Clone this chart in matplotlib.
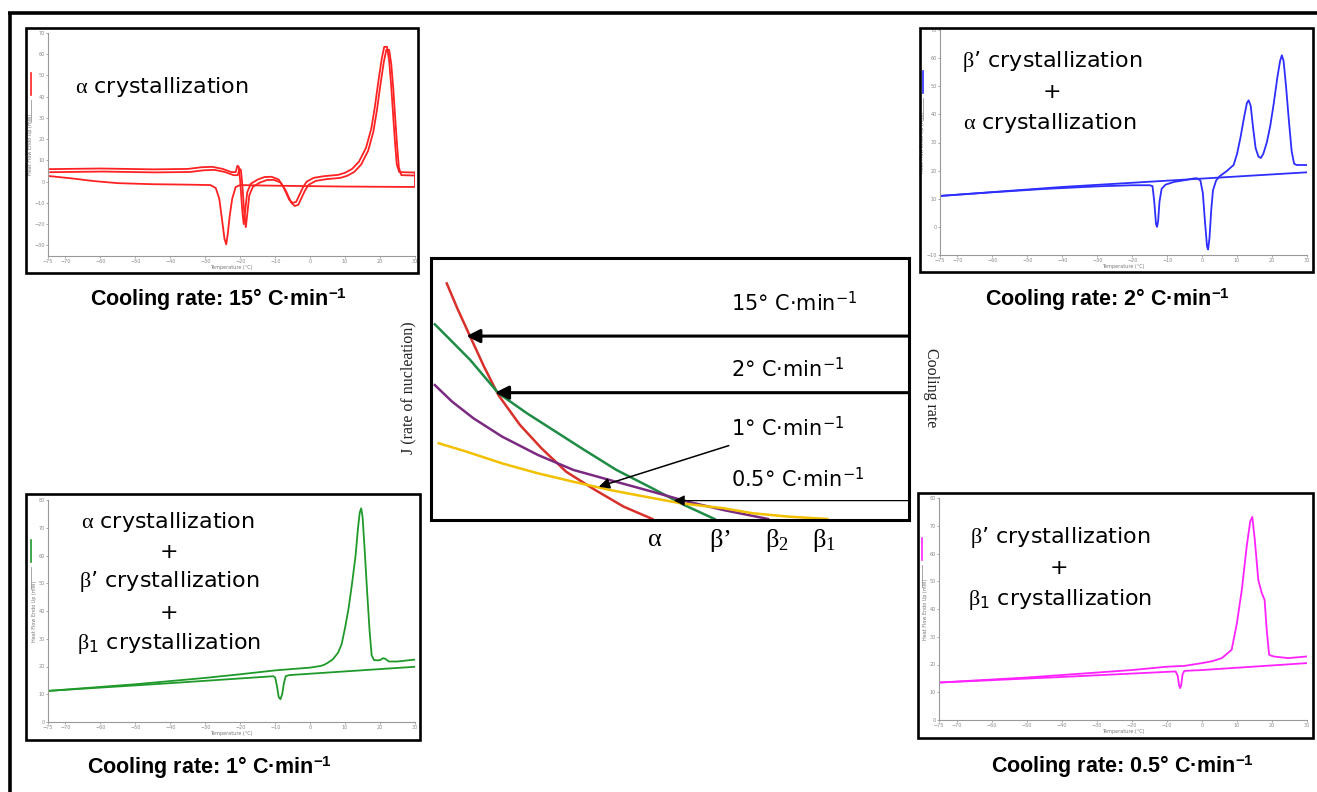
import numpy as np
import matplotlib
matplotlib.use("Agg")
from matplotlib import pyplot as plt
from matplotlib.patches import Rectangle
from matplotlib.transforms import ScaledTranslation

plt.rcParams['mathtext.fontset'] = 'custom'
plt.rcParams['mathtext.rm'] = 'Liberation Serif'
plt.rcParams['mathtext.it'] = 'Liberation Serif:italic'
plt.rcParams['mathtext.bf'] = 'Liberation Sans:bold'
plt.rcParams['mathtext.sf'] = 'DejaVu Sans'

W, H = 1317, 792

# ---- DSC thermograms (temperature in C, heat flow in mW) ----
XTICKS = [-75, -70, -60, -50, -40, -30, -20, -10, 0, 10, 20, 30]

# 15 C/min : heating trace (doubled in the picture) and cooling trace
T15_HEAT = [-75, -60, -45, -35, -31, -28, -25, -22.5, -21.3, -20.8, -20.4, -20, -19.4, -19, -18.6,
            -18, -17, -15, -13, -11, -9, -7.5, -6, -5, -4, -3, -2, -1, 1, 4, 8, 10, 12, 14,
            16, 17.5, 18.5, 19.5, 20.5, 21.2, 22, 22.6, 23.2, 23.8, 24.3, 24.8, 25.5, 30]
HF15_HEAT = [5.9, 6.2, 5.8, 6, 6.8, 7, 6, 4.5, 4.5, 7.5, 7, 0, -14, -20, -14,
             -5, -1, 1, 2.2, 2.3, 1, -3, -8.5, -10, -9.5, -6, -2.5, 0, 1.8, 2.6, 3.2, 4.2, 6, 9.5,
             16, 25, 35, 47, 58, 63.5, 63.5, 57, 45, 30, 18, 8, 4.5, 4.3]
T15_COOL = [30, 30, 10, 0, -10, -17, -20, -21.3, -22.3, -23, -23.6, -24, -24.5, -25.2, -26, -27,
            -28.5, -35, -45, -55, -62, -68, -75]
HF15_COOL = [4.3, -2.5, -2.3, -2.1, -1.9, -1.7, -1.6, -2.5, -8, -16, -25, -29.5, -27, -18, -8, -3,
             -1.6, -1.4, -1.2, -0.7, 0.3, 1.5, 2.7]

# 2 C/min
T2_BASE = [-75, -40, 30]
HF2_BASE = [11, 14.2, 19.4]
T2_RUN = [-75, -60, -45, -30, -20, -15, -14.2, -13.7, -13.2, -12.9, -12.6, -12.2, -11.6, -10.5,
          -8, -5, -2.5, -1.5, -0.5, 0.2, 0.8, 1.4, 1.7, 2.1, 2.6, 3.1, 4, 5, 7, 9, 10, 11, 12,
          12.8, 13.3, 13.9, 14.6, 15.3, 16.1, 16.8, 17.5, 18.5, 19.5, 20.5, 21.5, 22.3, 22.8,
          23.3, 24, 24.8, 25.6, 26.3, 27, 30]
HF2_RUN = [11, 12.3, 13.5, 14.4, 14.8, 14.8, 14.5, 9, 1, 0, 2, 9, 13.5, 15,
           16, 16.6, 17.2, 17.3, 16.5, 12, 2, -7, -8, -4, 6, 13, 16.5, 18, 19.8, 22, 26, 32, 39,
           44, 45, 43, 35, 28, 25, 24.5, 26, 30, 36, 44, 53, 59, 61,
           59, 50, 38, 27, 22.5, 22, 22]

# 1 C/min
T1_HEAT = [-75, -50, -30, -20, -10, 0, 3, 4, 5, 6.5, 8, 9, 10, 11, 12, 13, 13.7, 14.2, 14.6, 15,
           15.6, 16.3, 17, 17.6, 18.3, 19.5, 20.3, 20.8, 21.5, 22.5, 25, 30]
HF1_HEAT = [11.2, 13.6, 15.9, 17.2, 18.6, 19.6, 20.2, 20.6, 21.3, 22.6, 25, 28, 34, 41, 50, 60, 70,
            75.5, 77, 74, 62, 47, 33, 24, 22.3, 22.2, 22.5, 23, 22.8, 21.8, 21.8, 22.5]
T1_COOL = [30, 0, -6, -7, -7.5, -8, -8.5, -9, -9.5, -10, -10.5, -40, -75]
HF1_COOL = [19.9, 17.4, 16.9, 16.5, 14, 10, 8.2, 9, 13, 16, 16.5, 14, 11.2]

# 0.5 C/min
T05_HEAT = [-75, -50, -30, -20, -10, -5, 0, 3, 5.7, 8.5, 10, 11.4, 12.8, 13.8, 14.4, 15.1, 16.1,
            17.1, 17.9, 18.5, 19.2, 20.4, 24.7, 30]
HF05_HEAT = [13.5, 15.3, 17.1, 18, 19.2, 19.5, 20.5, 21.2, 22.3, 25.3, 34.9, 46.9, 62.6, 71.6, 73.2,
             65, 50.5, 45.7, 43.3, 32.5, 23.5, 22.9, 22.3, 22.9]
T05_COOL = [30, 0, -5, -5.5, -5.9, -6.2, -6.5, -6.9, -7.5, -40, -75]
HF05_COOL = [20.5, 18, 17.7, 16.5, 12.5, 11.5, 12.5, 16, 17.5, 15.5, 13.5]

# ---- nucleation rate scheme (arbitrary units, 0-100) ----
X_ALPHA = [3.3, 5.5, 8.2, 11.1, 14.1, 18.6, 23.1, 28.3, 34.3, 40.3, 46.3]
J_ALPHA = [90.3, 80.8, 70.0, 58.5, 47.7, 36.3, 27.4, 18.4, 11.5, 5.1, 0.4]
X_BPRIME = [0.8, 4.4, 8.2, 14.1, 20.1, 26.1, 32.1, 38.8, 46.3, 53.0, 59.3]
J_BPRIME = [74.7, 68.1, 61.1, 48.4, 40.7, 33.7, 26.7, 19.1, 12.1, 5.7, 0.4]
X_B2 = [0.8, 4.4, 8.9, 14.9, 22.4, 29.8, 37.3, 46.3, 53.7, 61.2, 70.5]
J_B2 = [51.5, 45.2, 38.8, 31.8, 24.8, 19.1, 15.3, 10.8, 7.0, 3.8, 0.4]
X_B1 = [1.6, 7.4, 14.9, 22.4, 29.8, 37.3, 44.8, 52.2, 61.2, 67.2, 74.7, 82.9]
J_B1 = [29.3, 26.1, 21.6, 17.8, 14.6, 11.5, 8.9, 6.4, 4.5, 2.6, 1.3, 0.4]

RATE_LABELS = ["15", "2", "1", "0.5"]
RATE_LABEL_Y = [83.2, 58.0, 35.5, 16.0]
ARROW_FROM = [(100, 70.2), (100, 48.6), (62.3, 28.4), (100, 7.4)]
ARROW_TO = [(7.4, 70.2), (13.4, 48.6), (35.1, 12.7), (50.8, 7.4)]
ARROW_LW = [2.2, 2.2, 1.1, 0.9]
POLY_LABELS = [r"$\mathrm{\alpha}$", r"$\mathrm{\beta}$’", r"$\mathrm{\beta_2}$", r"$\mathrm{\beta_1}$"]

fig = plt.figure(figsize=(W / 100, H / 100), dpi=100)


def px_rect(l, t, r, b):
    return [l / W, 1 - b / H, (r - l) / W, (b - t) / H]


def dsc_panel(rect, ylim, yticks, color, traces, doubled=False):
    ax = fig.add_axes(px_rect(*rect))
    for T, HF in traces:
        ax.plot(T, HF, color=color, lw=1.3)
    if doubled:
        # the heating run is drawn twice, slightly shifted
        T, HF = traces[0]
        off = ax.transData + ScaledTranslation(1.5 / 72, -2.2 / 72, fig.dpi_scale_trans)
        ax.plot(T, HF, color=color, lw=1.3, transform=off)
    ax.set_xlim(-75, 30)
    ax.set_ylim(*ylim)
    ax.set_xticks(XTICKS)
    ax.set_yticks(yticks)
    ax.tick_params(labelsize=3.5, colors='#888888', length=1.5, width=0.5, pad=1)
    ax.spines['top'].set_visible(False)
    ax.spines['right'].set_visible(False)
    ax.spines['left'].set_color('#999999')
    ax.spines['bottom'].set_color('#999999')
    ax.set_xlabel("Temperature (°C)", fontsize=3.5, color='#777777', labelpad=0.5)
    ax.set_ylabel("Heat Flow Endo Up (mW)", fontsize=3.5, color='#777777', labelpad=1)
    ax.plot([-0.045, -0.045], [0.72, 0.82], transform=ax.transAxes, clip_on=False, color=color, lw=1.2)
    ax.plot([-0.045, -0.045], [0.60, 0.70], transform=ax.transAxes, clip_on=False, color='#999999', lw=0.6)
    return ax


dsc_panel((48, 33, 415, 256), (-35, 70), list(range(-30, 71, 10)), '#ff2222',
          [(T15_HEAT, HF15_HEAT), (T15_COOL, HF15_COOL)], doubled=True)
dsc_panel((940, 30, 1307, 255), (-10, 70), list(range(-10, 71, 10)), '#2e2eff',
          [(T2_BASE, HF2_BASE), (T2_RUN, HF2_RUN)])
dsc_panel((48, 500, 415, 722), (0, 80), list(range(0, 81, 10)), '#1f9a2a',
          [(T1_HEAT, HF1_HEAT), (T1_COOL, HF1_COOL)])
dsc_panel((939, 498, 1307, 720), (0, 80), list(range(0, 81, 10)), '#ff22ff',
          [(T05_HEAT, HF05_HEAT), (T05_COOL, HF05_COOL)])

# ---- central scheme ----
axc = fig.add_axes(px_rect(431, 258, 909, 520))
axc.plot(X_ALPHA, J_ALPHA, color='#d8302a', lw=1.8)
axc.plot(X_BPRIME, J_BPRIME, color='#1e8c45', lw=1.8)
axc.plot(X_B2, J_B2, color='#7a2a80', lw=1.8)
axc.plot(X_B1, J_B1, color='#f2c000', lw=1.8)
axc.set_xlim(0, 100)
axc.set_ylim(0, 100)
axc.set_xticks([])
axc.set_yticks([])
for s in axc.spines.values():
    s.set_linewidth(2.2)
for i in range(4):
    axc.annotate('', xy=ARROW_TO[i], xytext=ARROW_FROM[i],
                 arrowprops=dict(arrowstyle='-|>', color='black', lw=ARROW_LW[i],
                                 mutation_scale=20 if ARROW_LW[i] > 2 else 16,
                                 shrinkA=0, shrinkB=0))
    axc.text(62.8, RATE_LABEL_Y[i], RATE_LABELS[i] + r"° C·min$^{\mathsf{-1}}$",
             fontsize=15, family='DejaVu Sans', ha='left', va='center')

# ---- overlay in pixel coordinates: frames, captions, annotations ----
ax0 = fig.add_axes([0, 0, 1, 1], zorder=10)
ax0.set_xlim(0, W)
ax0.set_ylim(H, 0)
ax0.axis('off')

ax0.plot([8, W], [13, 13], color='black', lw=2.6, solid_capstyle='butt')
ax0.plot([10, 10], [12, H], color='black', lw=2.6, solid_capstyle='butt')
for l, t, r, b in [(26, 28, 418, 273), (920, 28, 1313, 272), (26, 494, 420, 740), (918, 493, 1313, 738)]:
    ax0.add_patch(Rectangle((l, t), r - l, b - t, fill=False, lw=1.9, ec='black'))

cap = dict(fontsize=15.5, fontweight='bold', family='Liberation Sans', ha='center', va='center')
ax0.text(218, 300, r"Cooling rate: 15° C·min$^{\mathbf{-1}}$", **cap)
ax0.text(1107, 300, r"Cooling rate: 2° C·min$^{\mathbf{-1}}$", **cap)
ax0.text(209, 768, r"Cooling rate: 1° C·min$^{\mathbf{-1}}$", **cap)
ax0.text(1122, 767, r"Cooling rate: 0.5° C·min$^{\mathbf{-1}}$", **cap)

txt = dict(fontsize=16, family='DejaVu Sans', ha='center', va='center')
a_cr = r"$\mathrm{\alpha}$ crystallization"
bp_cr = r"$\mathrm{\beta}$’ crystallization"
b1_cr = r"$\mathrm{\beta}_\mathsf{1}$ crystallization"
ax0.text(162, 87, a_cr, **txt)
ax0.text(1052, 62, bp_cr, **txt)
ax0.text(1052, 92, "+", **txt)
ax0.text(1050, 123, a_cr, **txt)
ax0.text(168, 522, a_cr, **txt)
ax0.text(169, 552, "+", **txt)
ax0.text(169, 582, bp_cr, **txt)
ax0.text(169, 613, "+", **txt)
ax0.text(169, 643, b1_cr, **txt)
ax0.text(1060, 538, bp_cr, **txt)
ax0.text(1059, 568, "+", **txt)
ax0.text(1060, 600, b1_cr, **txt)

ax0.text(408, 388, "J (rate of nucleation)", fontsize=11.5, family='Liberation Serif',
         rotation=90, ha='center', va='center', color='#222222')
ax0.text(931, 388, "Cooling rate", fontsize=11.5, family='Liberation Serif',
         rotation=-90, ha='center', va='center', color='#222222')
for xp, lab in zip([655, 720, 777, 824], POLY_LABELS):
    ax0.text(xp, 540, lab, fontsize=19, family='Liberation Serif', ha='center', va='center')

fig.savefig("out.png", dpi=100)
